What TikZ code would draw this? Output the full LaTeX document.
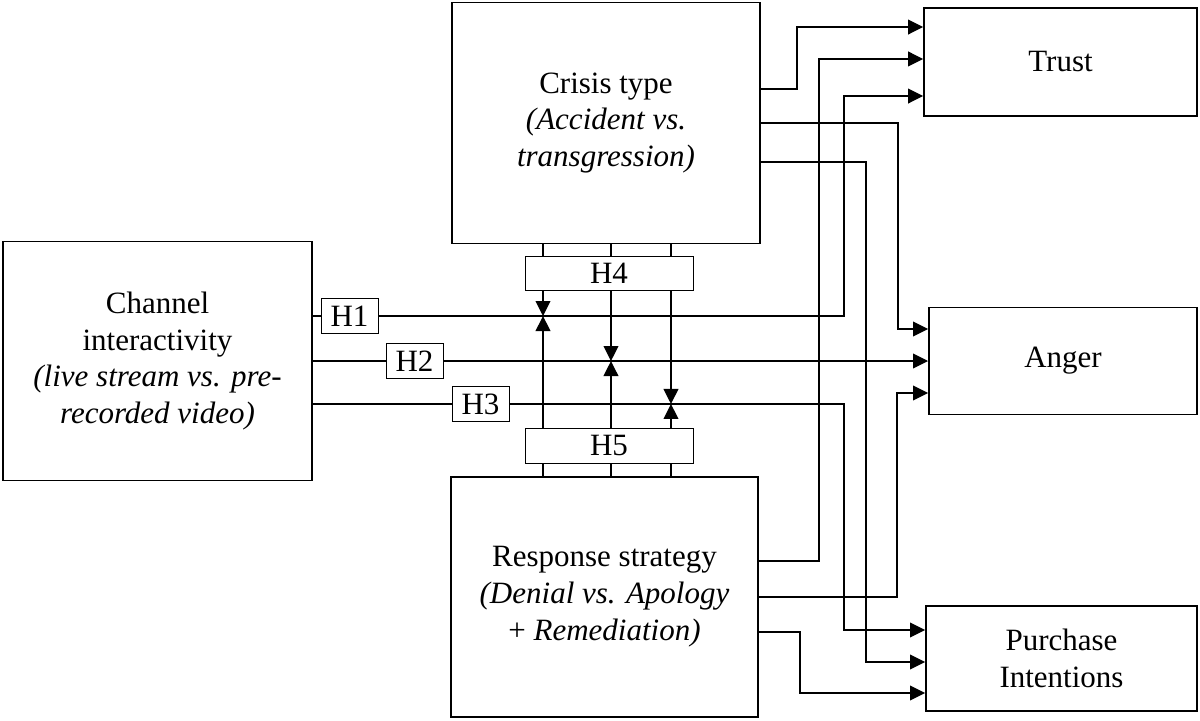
\documentclass[tikz,border=0pt]{standalone}
\usepackage{fontspec}
\setmainfont{Liberation Serif}
\usetikzlibrary{arrows.meta}
\tikzset{
  bigbox/.style={draw, line width=0.8pt, align=center, font=\fontsize{14.7}{17.5}\selectfont},
  hbox/.style={draw, line width=0.45pt, inner sep=0pt, minimum height=0.57cm, font=\fontsize{14.7}{17.5}\selectfont},
  arr/.style={-{Triangle[length=2.5mm,width=2.45mm]}},
}
\begin{document}
\begin{tikzpicture}[line width=0.7pt]
\useasboundingbox (0,0) rectangle (20,-12);
% variables
\node[bigbox, minimum width=5.15cm, minimum height=3.98cm] (chan) at (2.625,-6.017) {Channel\\interactivity\\\textit{(live stream vs. pre-}\\\textit{recorded video)}};
\node[bigbox, minimum width=5.13cm, minimum height=4.02cm] (crisis) at (10.1,-2.05) {Crisis type\\\textit{(Accident vs.}\\\textit{transgression)}};
\node[bigbox, minimum width=5.12cm, minimum height=4cm] (resp) at (10.075,-9.95) {Response strategy\\\textit{(Denial vs. Apology}\\+ \textit{Remediation)}};
\node[bigbox, minimum width=4.55cm, minimum height=1.8cm] (trust) at (17.675,-1.033) {Trust};
\node[bigbox, minimum width=4.47cm, minimum height=1.78cm] (anger) at (17.717,-6.017) {Anger};
\node[bigbox, minimum width=4.52cm, minimum height=1.75cm] (purch) at (17.692,-10.975) {Purchase\\Intentions};
% hypotheses
\node[hbox, minimum width=0.95cm] (h1) at (5.825,-5.267) {H1};
\node[hbox, minimum width=0.95cm] (h2) at (6.908,-6.017) {H2};
\node[hbox, minimum width=0.95cm] (h3) at (8.008,-6.733) {H3};
\node[hbox, minimum width=2.8cm] (h4) at (10.15,-4.558) {H4};
\node[hbox, minimum width=2.8cm] (h5) at (10.15,-7.433) {H5};

% main effects
\draw (chan.east |- h1) -- (h1.west);
\draw (chan.east |- h2) -- (h2.west);
\draw (chan.east |- h3) -- (h3.west);
\draw[arr] (h1.east) -| (14.067,-1.6) -- (trust.west |- 0,-1.6);
\draw[arr] (h2.east) -- (anger.west |- h2.east);
\draw[arr] (h3.east) -| (14.067,-10.5) -- (purch.west |- 0,-10.5);

% moderators
\foreach \xx/\hh in {9.05/h1,10.183/h2,11.183/h3}{
  \draw (crisis.south -| \xx,0) -- (h4.north -| \xx,0);
  \draw[arr] (h4.south -| \xx,0) -- (\hh -| \xx,0);
  \draw[arr] (h5.north -| \xx,0) -- (\hh -| \xx,0);
  \draw (resp.north -| \xx,0) -- (h5.south -| \xx,0);
}

% direct paths
\draw[arr] (crisis.east |- 0,-1.483) -| (13.283,-0.45) -- (trust.west |- 0,-0.45);
\draw[arr] (crisis.east) -| (14.967,-5.483) -- (anger.west |- 0,-5.483);
\draw[arr] (crisis.east |- 0,-2.7) -| (14.433,-11.033) -- (purch.west |- 0,-11.033);
\draw[arr] (resp.east |- 0,-9.35) -| (13.65,-0.983) -- (trust.west |- 0,-0.983);
\draw[arr] (resp.east) -| (14.95,-6.55) -- (anger.west |- 0,-6.55);
\draw[arr] (resp.east |- 0,-10.533) -| (13.333,-11.55) -- (purch.west |- 0,-11.55);
\end{tikzpicture}
\end{document}
